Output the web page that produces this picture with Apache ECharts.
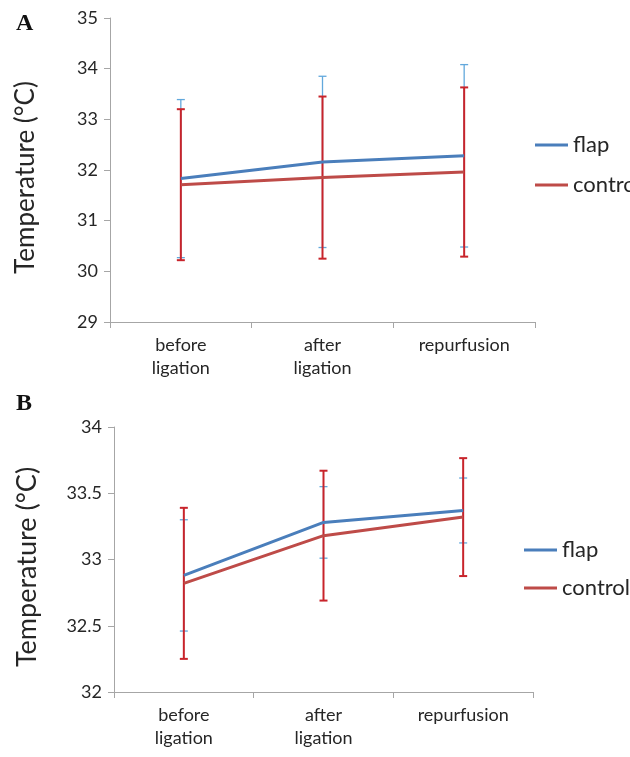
<!DOCTYPE html>
<html>
<head>
<meta charset="utf-8">
<script src="https://cdn.jsdelivr.net/npm/echarts@6/dist/echarts.min.js"></script>
<style>
html,body{margin:0;padding:0;background:#fff;}
#chart{width:630px;height:757px;}
</style>
</head>
<body>
<div id="chart"></div>
<script>
// ---- data ----
var categories = ['before\nligation', 'after\nligation', 'repurfusion'];
var seriesNames = ['flap', 'control'];

// Panel A
var flapA = [31.83, 32.16, 32.28];
var controlA = [31.71, 31.85, 31.96];
var flapA_sd = [1.56, 1.69, 1.80];
var controlA_sd = [1.49, 1.60, 1.67];
var yTicksA = {min: 29, max: 35, interval: 1};

// Panel B
var flapB = [32.88, 33.28, 33.37];
var controlB = [32.82, 33.18, 33.32];
var flapB_sd = [0.42, 0.27, 0.245];
var controlB_sd = [0.57, 0.49, 0.445];
var yTicksB = {min: 32, max: 34, interval: 0.5};

var yTitle = 'Temperature (\u00B0C)';
var panelLabels = ['A', 'B'];

// ---- styles ----
var FLAP_LINE = '#4a7ebb', CTRL_LINE = '#be4b48';
var FLAP_ERR = '#62a8dc', CTRL_ERR = '#c8242b';
var AXIS_COL = '#a6a6a6', TXT = '#262626';
var FONT = 'Lato, "Open Sans", sans-serif';

function errData(mean, sd) {
  return mean.map(function (m, i) { return [i, m - sd[i], m + sd[i]]; });
}
function errSeries(name, data, xi, color, width, cap, z) {
  return {
    type: 'custom', name: name + '_err', xAxisIndex: xi, yAxisIndex: xi, z: z,
    silent: true, data: data,
    renderItem: function (params, api) {
      var x = api.value(0);
      var lo = api.coord([x, api.value(1)]);
      var hi = api.coord([x, api.value(2)]);
      var st = {stroke: color, lineWidth: width};
      return {
        type: 'group',
        children: [
          {type: 'line', shape: {x1: lo[0], y1: lo[1], x2: hi[0], y2: hi[1]}, style: st},
          {type: 'line', shape: {x1: lo[0] - cap, y1: lo[1], x2: lo[0] + cap, y2: lo[1]}, style: st},
          {type: 'line', shape: {x1: hi[0] - cap, y1: hi[1], x2: hi[0] + cap, y2: hi[1]}, style: st}
        ]
      };
    }
  };
}
function xAxis(gi) {
  return {
    type: 'category', gridIndex: gi, data: categories, boundaryGap: true,
    axisLine: {lineStyle: {color: AXIS_COL, width: 1}},
    axisTick: {show: true, length: 6, lineStyle: {color: AXIS_COL}},
    axisLabel: {color: TXT, fontSize: 18, fontFamily: FONT, lineHeight: 23, margin: 12, interval: 0}
  };
}
function yAxis(gi, t, gap, fs) {
  return {
    type: 'value', gridIndex: gi, min: t.min, max: t.max, interval: t.interval,
    name: yTitle, nameLocation: 'middle', nameRotate: 90, nameGap: gap,
    nameTextStyle: {color: TXT, fontSize: fs, fontFamily: FONT, padding: [0, 15, 0, 0]},
    axisLine: {show: true, lineStyle: {color: AXIS_COL, width: 1}},
    axisTick: {show: true, length: 6, lineStyle: {color: AXIS_COL}},
    splitLine: {show: false},
    axisLabel: {color: TXT, fontSize: 18, fontFamily: FONT, margin: 12}
  };
}
function lineSeries(name, data, gi, color) {
  return {
    type: 'line', name: name, xAxisIndex: gi, yAxisIndex: gi, data: data,
    symbol: 'none', z: 5, color: color,
    lineStyle: {color: color, width: 3}, itemStyle: {color: color}
  };
}

var chart = echarts.init(document.getElementById('chart'), null, {renderer: 'canvas'});
chart.setOption({
  backgroundColor: '#fff',
  animation: false,
  grid: [
    {left: 110, right: 95, top: 18, height: 304},
    {left: 114, right: 97, top: 427, height: 265}
  ],
  xAxis: [xAxis(0), xAxis(1)],
  yAxis: [yAxis(0, yTicksA, 71, 26), yAxis(1, yTicksB, 73, 27)],
  legend: [
    {data: seriesNames, left: 530, top: 129, orient: 'vertical', icon: 'rect', itemWidth: 33, itemHeight: 3, itemGap: 18,
     textStyle: {color: TXT, fontSize: 22, fontFamily: FONT}, selectedMode: false},
    {data: seriesNames, left: 519, top: 534, orient: 'vertical', icon: 'rect', itemWidth: 33, itemHeight: 3, itemGap: 16,
     textStyle: {color: TXT, fontSize: 22, fontFamily: FONT}, selectedMode: false}
  ],
  graphic: [
    {type: 'text', left: 16, top: 12, style: {text: panelLabels[0], font: 'bold 24px "Liberation Serif", "DejaVu Serif", serif', fill: '#111'}},
    {type: 'text', left: 16, top: 392, style: {text: panelLabels[1], font: 'bold 24px "Liberation Serif", "DejaVu Serif", serif', fill: '#111'}}
  ],
  series: [
    errSeries('flap', errData(flapA, flapA_sd), 0, FLAP_ERR, 1.3, 4, 2),
    errSeries('control', errData(controlA, controlA_sd), 0, CTRL_ERR, 2, 4, 3),
    lineSeries('control', controlA, 0, CTRL_LINE),
    lineSeries('flap', flapA, 0, FLAP_LINE),
    errSeries('flap', errData(flapB, flapB_sd), 1, FLAP_ERR, 1.3, 4, 2),
    errSeries('control', errData(controlB, controlB_sd), 1, CTRL_ERR, 2, 4, 3),
    lineSeries('control', controlB, 1, CTRL_LINE),
    lineSeries('flap', flapB, 1, FLAP_LINE)
  ]
});
</script>
</body>
</html>
